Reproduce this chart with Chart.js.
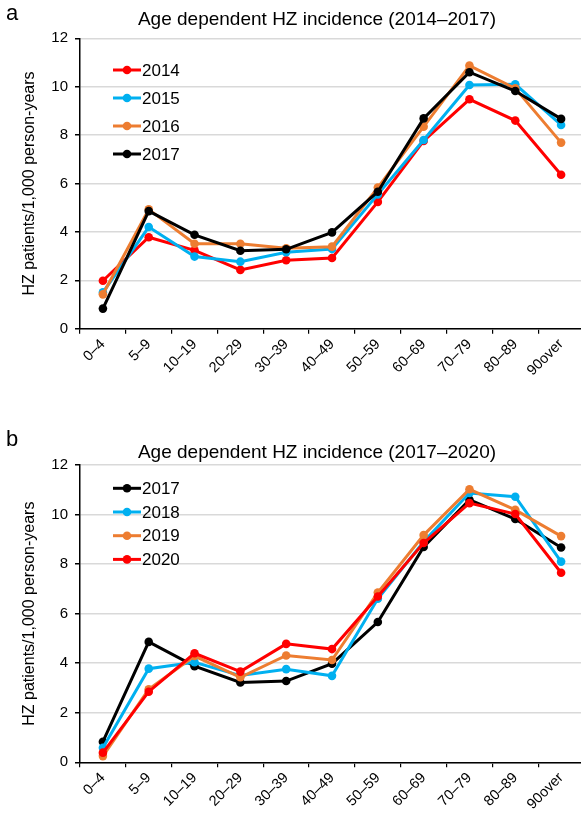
<!DOCTYPE html>
<html>
<head>
<meta charset="utf-8">
<script src="https://cdn.jsdelivr.net/npm/chart.js@4/dist/chart.umd.min.js"></script>
<style>
  html, body { margin: 0; padding: 0; background: #fff; overflow: hidden; width: 581px; height: 814px; }
  .wrap { position: absolute; left: 0; width: 600px; }
  #wa { top: 0; height: 410px; }
  #wb { top: 420px; height: 394px; }
</style>
</head>
<body>
<div class="wrap" id="wa"><canvas id="ca" width="600" height="410"></canvas></div>
<div class="wrap" id="wb"><canvas id="cb" width="600" height="394"></canvas></div>
<script>
// ---- data ----
const ageGroups = ['0–4','5–9','10–19','20–29','30–39','40–49','50–59','60–69','70–79','80–89','90over'];
const yTickValues = [0, 2, 4, 6, 8, 10, 12];

const inc2014 = [1.98, 3.78, 3.24, 2.43, 2.83, 2.92, 5.24, 7.76, 9.48, 8.60, 6.36];
const inc2015 = [1.50, 4.20, 2.98, 2.77, 3.16, 3.29, 5.55, 7.80, 10.07, 10.10, 8.42];
const inc2016 = [1.42, 4.93, 3.51, 3.51, 3.32, 3.39, 5.83, 8.35, 10.87, 9.93, 7.69];
const inc2017 = [0.83, 4.86, 3.88, 3.22, 3.28, 3.98, 5.66, 8.69, 10.60, 9.82, 8.67];
const inc2018 = [0.59, 3.78, 4.04, 3.50, 3.76, 3.49, 6.60, 8.90, 10.87, 10.72, 8.10];
const inc2019 = [0.25, 2.95, 4.29, 3.43, 4.31, 4.13, 6.85, 9.17, 11.02, 10.19, 9.13];
const inc2020 = [0.39, 2.85, 4.40, 3.66, 4.78, 4.57, 6.69, 8.85, 10.46, 10.02, 7.65];

const titleA = 'Age dependent HZ incidence (2014–2017)';
const titleB = 'Age dependent HZ incidence (2017–2020)';
const yTitle = 'HZ patients/1,000 person-years';

const RED = '#ff0000', BLUE = '#00b0f0', ORANGE = '#ed7d31', BLACK = '#000000';
const FONT = '"Liberation Sans", Arial, sans-serif';

function ds(label, data, color, idx, n) {
  return {
    label, data,
    borderColor: color, backgroundColor: color,
    pointBackgroundColor: color, pointBorderColor: color,
    borderWidth: 3, pointRadius: 4.3, pointBorderWidth: 0,
    tension: 0, order: n - idx
  };
}

const overlay = {
  id: 'overlay',
  afterDraw(chart, args, opts) {
    const ctx = chart.ctx;
    ctx.save();
    ctx.fillStyle = '#000';
    ctx.textBaseline = 'middle';
    // panel letter
    ctx.font = '22px ' + FONT;
    ctx.textAlign = 'left';
    ctx.fillText(opts.letter, opts.letterX, opts.letterY);
    // title
    ctx.font = '19px ' + FONT;
    ctx.textAlign = 'center';
    ctx.fillText(opts.title, opts.titleX, opts.titleY);
    // legend
    ctx.font = '17px ' + FONT;
    ctx.textAlign = 'left';
    chart.data.datasets.forEach((d, i) => {
      const y = opts.legendY + i * opts.legendGap;
      ctx.strokeStyle = d.borderColor;
      ctx.lineWidth = 3;
      ctx.beginPath();
      ctx.moveTo(113, y); ctx.lineTo(141, y); ctx.stroke();
      ctx.fillStyle = d.borderColor;
      ctx.beginPath(); ctx.arc(127, y, 4.3, 0, Math.PI * 2); ctx.fill();
      ctx.fillStyle = '#000';
      ctx.fillText(d.label, 142, y + 1);
    });
    ctx.restore();
  }
};

function makeChart(id, datasets, padTop, xHeight, overlayOpts) {
  return new Chart(document.getElementById(id), {
    type: 'line',
    data: { labels: ageGroups, datasets },
    plugins: [overlay],
    options: {
      responsive: false,
      animation: false,
      devicePixelRatio: 1,
      layout: { padding: { top: padTop, right: 16, left: 0, bottom: 0 } },
      plugins: { legend: { display: false }, tooltip: { enabled: false }, title: { display: false }, overlay: overlayOpts },
      scales: {
        x: {
          offset: true,
          afterFit(s) { s.height = xHeight; },
          border: { display: true, color: '#000', width: 1.5 },
          grid: { display: true, drawOnChartArea: false, drawTicks: true, tickLength: 5, tickColor: '#000', offset: true, lineWidth: 1.2 },
          ticks: { minRotation: 45, maxRotation: 45, autoSkip: false, color: '#000', font: { family: FONT, size: 14.5 }, padding: 2 }
        },
        y: {
          min: 0, max: 12,
          afterFit(s) { s.width = 80; },
          afterBuildTicks(s) { s.ticks = yTickValues.map(v => ({ value: v })); },
          border: { display: true, color: '#000', width: 1.5 },
          grid: { color: '#d9d9d9', lineWidth: 1.5, tickLength: 5, tickColor: '#000' },
          ticks: { color: '#000', font: { family: FONT, size: 15 }, padding: 7 },
          title: { display: true, text: yTitle, color: '#000', font: { family: FONT, size: 16 }, padding: { top: 20, bottom: 0 } }
        }
      }
    }
  });
}

makeChart('ca', [
  ds('2014', inc2014, RED, 0, 4),
  ds('2015', inc2015, BLUE, 1, 4),
  ds('2016', inc2016, ORANGE, 2, 4),
  ds('2017', inc2017, BLACK, 3, 4)
], 38.3, 410 - 328.7, { letter: 'a', letterX: 6, letterY: 14, title: titleA, titleX: 317, titleY: 20, legendY: 70, legendGap: 28 });

makeChart('cb', [
  ds('2017', inc2017, BLACK, 0, 4),
  ds('2018', inc2018, BLUE, 1, 4),
  ds('2019', inc2019, ORANGE, 2, 4),
  ds('2020', inc2020, RED, 3, 4)
], 45, 394 - 342.3, { letter: 'b', letterX: 6, letterY: 20, title: titleB, titleX: 317, titleY: 33, legendY: 68.3, legendGap: 23.7 });
</script>
</body>
</html>
